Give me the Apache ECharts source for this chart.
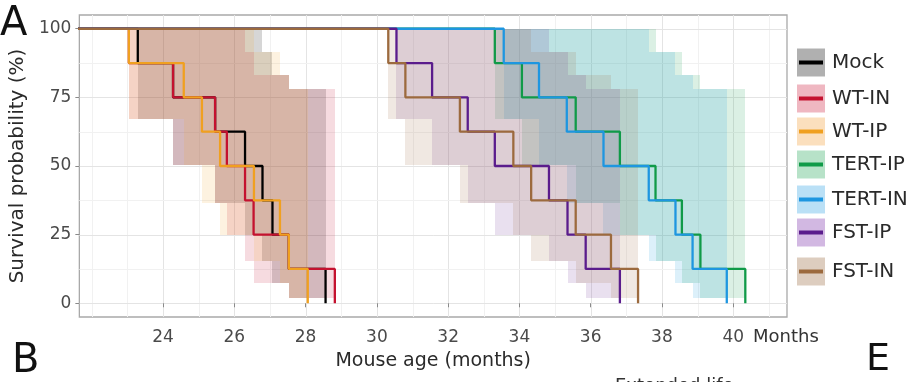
<!DOCTYPE html>
<html><head><meta charset="utf-8">
<script src="https://cdn.jsdelivr.net/npm/echarts@6/dist/echarts.min.js"></script>
<style>html,body{margin:0;padding:0;background:#fff}#c{width:921px;height:382px}</style>
</head><body><div id="c"></div>
<script>
// ---- data ----
const groups = ['Mock', 'WT-IN', 'WT-IP', 'TERT-IP', 'TERT-IN', 'FST-IP', 'FST-IN'];
// Event times (months); each event drops survival by one of 8 mice (12.5 %)
const mockTimes   = [23.29, 24.28, 25.46, 26.30, 26.79, 27.07, 27.53, 28.56];
const wtInTimes   = [23.04, 24.28, 25.46, 25.79, 26.30, 26.54, 27.53, 28.82];
const wtIpTimes   = [23.04, 24.58, 25.09, 25.60, 26.55, 27.28, 27.53, 28.06];
const tertIpTimes = [33.31, 34.07, 35.58, 36.82, 37.82, 38.56, 39.08, 40.34];
const tertInTimes = [33.56, 34.55, 35.33, 36.36, 37.63, 38.38, 38.86, 39.82];
const fstIpTimes  = [30.55, 31.55, 32.55, 33.31, 34.83, 35.35, 35.86, 36.82];
const fstInTimes  = [30.32, 30.80, 32.33, 33.83, 34.33, 35.58, 36.57, 37.33];
const startTime = 0;
const survivalLevels = [100, 87.5, 75, 62.5, 50, 37.5, 25, 12.5, 0];
// confidence band limits for each survival level (index matches survivalLevels)
const bandUpper = [100, 100, 100, 100, 100, 91.7, 83.0, 78.1];
const bandLower = [100, 67.3, 50.3, 36.5, 25.0, 15.3, 7.5, 2.0];
const xTickValues = [24, 26, 28, 30, 32, 34, 36, 38, 40];
const yTickValues = [0, 25, 50, 75, 100];
const xGridMinor = [22, 23, 25, 27, 29, 31, 33, 35, 37, 39, 41];
const yGridMinor = [12.5, 37.5, 62.5, 87.5];

// ---- styles ----
const groupTimes = [mockTimes, wtInTimes, wtIpTimes, tertIpTimes, tertInTimes, fstIpTimes, fstInTimes];
const lineColors = ['#000000', '#C4122F', '#F0A020', '#109A48', '#1E96E0', '#5A1C8C', '#9C6A3E'];
const bandColors = ['rgba(0,0,0,0.16)', 'rgba(200,30,60,0.16)', 'rgba(240,165,50,0.15)', 'rgba(30,160,90,0.16)',
                    'rgba(40,160,225,0.16)', 'rgba(110,50,150,0.15)', 'rgba(160,115,75,0.16)'];
const keyFills = ['#b0b0b0', '#efb7c1', '#fbdfbd', '#b7e2c8', '#bae0f6', '#d2b8e2', '#ddcdbf'];
const legendCenters = [62.5, 98.5, 131.5, 164.5, 199.5, 232.5, 271.5];
const FONT = '"DejaVu Sans", sans-serif';

const chart = echarts.init(document.getElementById('c'), null, {renderer: 'canvas'});

const series = [];
// grid lines
const gridData = [];
xGridMinor.forEach(v => gridData.push([v, 0, 0]));
xTickValues.forEach(v => gridData.push([v, 0, 1]));
yGridMinor.forEach(v => gridData.push([0, v, 2]));
yTickValues.forEach(v => gridData.push([0, v, 3]));
series.push({
  type: 'custom', silent: true, z: 0, data: gridData,
  renderItem(params, api) {
    const cs = params.coordSys; const kind = api.value(2);
    const major = kind === 1 || kind === 3;
    const stroke = major ? '#e4e4e4' : '#f1f1f1';
    if (kind < 2) {
      const x = Math.round(api.coord([api.value(0), 0])[0]) + 0.5;
      return {type: 'line', shape: {x1: x, y1: cs.y, x2: x, y2: cs.y + cs.height}, style: {stroke, lineWidth: 1}};
    }
    const y = Math.round(api.coord([22, api.value(1)])[1]) + 0.5;
    return {type: 'line', shape: {x1: cs.x, y1: y, x2: cs.x + cs.width, y2: y}, style: {stroke, lineWidth: 1}};
  }
});
// confidence bands
groups.forEach((g, gi) => {
  const t = groupTimes[gi];
  const data = [];
  for (let k = 1; k < t.length; k++) data.push([t[k - 1], t[k], bandLower[k], bandUpper[k]]);
  series.push({
    type: 'custom', name: g + ' band', silent: true, z: 1, data,
    encode: {x: [0, 1], y: [2, 3]},
    renderItem(params, api) {
      const a = api.coord([api.value(0), api.value(3)]);
      const b = api.coord([api.value(1), api.value(2)]);
      const x0 = Math.round(a[0]), x1 = Math.round(b[0]);
      const y0 = Math.round(a[1]), y1 = Math.round(b[1]);
      return {type: 'rect', shape: {x: x0, y: y0, width: x1 - x0, height: y1 - y0},
              style: {fill: bandColors[gi]}};
    }
  });
});
// survival step lines
groups.forEach((g, gi) => {
  const t = groupTimes[gi];
  const data = [[startTime, survivalLevels[0]]];
  t.forEach((v, k) => data.push([v, survivalLevels[k + 1]]));
  series.push({
    type: 'line', name: g, step: 'end', data, showSymbol: false, clip: true, z: 3,
    lineStyle: {color: lineColors[gi], width: 2.3}, itemStyle: {color: lineColors[gi]}
  });
});

// legend via graphic
const graphic = [];
groups.forEach((g, i) => {
  const c = legendCenters[i];
  graphic.push({type: 'rect', shape: {x: 797, y: c - 14, width: 28, height: 28}, style: {fill: keyFills[i]}, z: 10});
  graphic.push({type: 'line', shape: {x1: 799, y1: c, x2: 823, y2: c}, style: {stroke: lineColors[i], lineWidth: 4}, z: 11});
  graphic.push({type: 'text', x: 832, y: c, style: {text: g, font: '20px ' + FONT, fill: '#2a2a2a', verticalAlign: 'middle'}, z: 11});
});
graphic.push({type: 'text', x: 753, y: 337, style: {text: 'Months', font: '18px ' + FONT, fill: '#333', verticalAlign: 'middle'}});
graphic.push({type: 'text', x: 0, y: 25, style: {text: 'A', font: '40px ' + FONT, fill: '#111', verticalAlign: 'middle'}});
graphic.push({type: 'text', x: 12, y: 362, style: {text: 'B', font: '40px ' + FONT, fill: '#111', verticalAlign: 'middle'}});
graphic.push({type: 'text', x: 866, y: 360, style: {text: 'E', font: '38px ' + FONT, fill: '#111', verticalAlign: 'middle'}});
graphic.push({type: 'text', x: 615, y: 377.5, style: {text: 'Extended life', font: '18px ' + FONT, fill: '#333', verticalAlign: 'top'}});

chart.setOption({
  animation: false,
  backgroundColor: '#ffffff',
  grid: {left: 77, right: 134, top: 15, bottom: 65, show: true, borderColor: '#a9a9a9', borderWidth: 1.3, backgroundColor: '#ffffff'},
  xAxis: {
    type: 'value', min: 21.65, max: 41.51,
    name: 'Mouse age (months)', nameLocation: 'middle', nameGap: 35,
    nameTextStyle: {fontFamily: FONT, fontSize: 19, color: '#2a2a2a'},
    axisLine: {show: false}, splitLine: {show: false},
    axisTick: {show: true, length: 4, lineStyle: {color: '#8a8a8a'}, customValues: xTickValues},
    axisLabel: {customValues: xTickValues, margin: 12, fontFamily: FONT, fontSize: 17, color: '#4a4a4a'}
  },
  yAxis: {
    type: 'value', min: -5, max: 105,
    name: 'Survival probability (%)', nameLocation: 'middle', nameGap: 39, nameRotate: 90,
    nameTextStyle: {fontFamily: FONT, fontSize: 20, color: '#2a2a2a'},
    axisLine: {show: false}, splitLine: {show: false},
    axisTick: {show: true, length: 4, lineStyle: {color: '#8a8a8a'}, customValues: yTickValues},
    axisLabel: {customValues: yTickValues, margin: 8, fontFamily: FONT, fontSize: 17, color: '#4a4a4a'}
  },
  series,
  graphic
});
</script>
</body></html>
